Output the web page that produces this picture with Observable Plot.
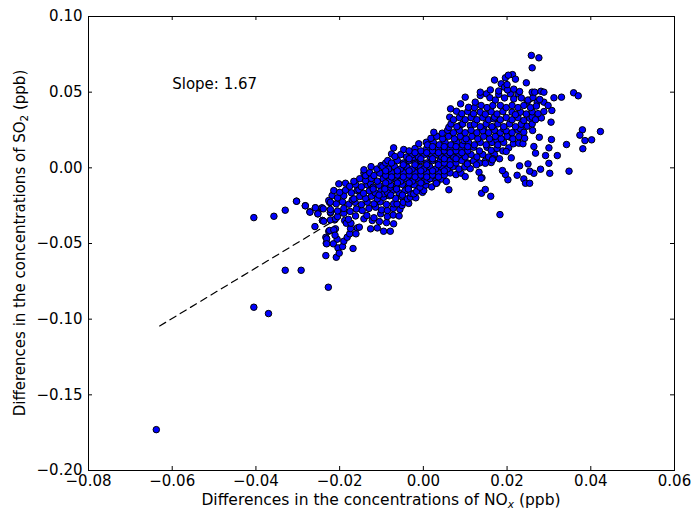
<!DOCTYPE html>
<html><head><meta charset="utf-8">
<script src="https://cdn.jsdelivr.net/npm/d3@7"></script>
<script src="https://cdn.jsdelivr.net/npm/@observablehq/plot@0.6"></script>
<style>body{margin:0;background:#fff;} svg{font-family:"DejaVu Sans",sans-serif;}</style>
</head><body><div id="chart"></div>
<script>
const xTicks = [-0.08,-0.06,-0.04,-0.02,0,0.02,0.04,0.06];
const yTicks = [-0.20,-0.15,-0.10,-0.05,0,0.05,0.10];
const slope = 1.67, intercept = 0.0007;
const fitRangeX = [-0.0630, 0.0270];
const slopeLabel = ["Slope: 1.67"];

const outliers = [
[-0.0405,-0.0329],[-0.0357,-0.0320],[-0.0330,-0.0280],[-0.0303,-0.0220],[-0.0282,-0.0250],
[-0.0271,-0.0290],[-0.0258,-0.0264],[-0.0243,-0.0269],[-0.0252,-0.0304],[-0.0241,-0.0348],
[-0.0259,-0.0388],[-0.0224,-0.0229],[-0.0222,-0.0297],[-0.0330,-0.0677],[-0.0292,-0.0677],
[-0.0227,-0.0789],[-0.0405,-0.0921],[-0.0370,-0.0963],[-0.0638,-0.1730]
];
const lowerArm = [
[-0.0233,-0.0459],[-0.0232,-0.0498],[-0.0233,-0.0580],[-0.0206,-0.0472],[-0.0215,-0.0502],
[-0.0204,-0.0529],[-0.0208,-0.0591],[-0.0201,-0.0564],[-0.0193,-0.0520],[-0.0190,-0.0485],
[-0.0182,-0.0459],[-0.0168,-0.0533],[-0.0231,-0.0469],[-0.0231,-0.0502]
];
const coreBand = [
[-0.0226,-0.0419],[-0.0210,-0.0403],[-0.0176,-0.0436],[-0.0158,-0.0397],[-0.0126,-0.0403],[-0.0110,-0.0397],[-0.0095,-0.0419],[-0.0079,-0.0419],[-0.0174,-0.0401],[-0.0153,-0.0392],[-0.0161,-0.0436],[-0.0224,-0.0414],[-0.0214,-0.0410],[-0.0211,-0.0445],
[-0.0241,-0.0348],[-0.0212,-0.0344],[-0.0222,-0.0344],[-0.0188,-0.0348],[-0.0184,-0.0366],[-0.0173,-0.0366],[-0.0142,-0.0337],[-0.0122,-0.0348],[-0.0105,-0.0355],[-0.0088,-0.0362],[-0.0071,-0.0370],[-0.0210,-0.0337],[-0.0238,-0.0353],
[-0.0252,-0.0304],[-0.0222,-0.0293],[-0.0190,-0.0300],[-0.0179,-0.0340],[-0.0162,-0.0318],[-0.0135,-0.0315],[-0.0102,-0.0304],[-0.0118,-0.0330],[-0.0086,-0.0322],[-0.0072,-0.0312],[-0.0058,-0.0318],[-0.0205,-0.0322],
[-0.0271,-0.0293],[-0.0258,-0.0264],[-0.0242,-0.0264],[-0.0239,-0.0271],[-0.0222,-0.0275],[-0.0205,-0.0285],[-0.0190,-0.0268],[-0.0175,-0.0288],[-0.0160,-0.0272],[-0.0146,-0.0282],[-0.0130,-0.0268],[-0.0114,-0.0260],[-0.0100,-0.0278],[-0.0086,-0.0282],[-0.0072,-0.0268],[-0.0056,-0.0275],[-0.0051,-0.0249],
[-0.0282,-0.0251],[-0.0226,-0.0216],[-0.0222,-0.0227],[-0.0208,-0.0238],[-0.0193,-0.0225],[-0.0178,-0.0240],[-0.0163,-0.0228],[-0.0148,-0.0243],[-0.0134,-0.0227],[-0.0118,-0.0238],[-0.0103,-0.0225],[-0.0088,-0.0242],[-0.0071,-0.0238],[-0.0063,-0.0238],[-0.0048,-0.0228],[-0.0035,-0.0235],
[-0.0303,-0.0221],[-0.0218,-0.0183],[-0.0205,-0.0198],[-0.0190,-0.0185],[-0.0170,-0.0212],[-0.0166,-0.0205],[-0.0152,-0.0190],[-0.0138,-0.0202],[-0.0124,-0.0188],[-0.0110,-0.0205],[-0.0095,-0.0195],[-0.0081,-0.0185],[-0.0066,-0.0202],[-0.0052,-0.0190],[-0.0038,-0.0205],[-0.0031,-0.0194],[-0.0018,-0.0198],
[-0.0214,-0.0150],[-0.0200,-0.0162],[-0.0186,-0.0148],[-0.0172,-0.0165],[-0.0158,-0.0150],[-0.0154,-0.0145],[-0.0143,-0.0168],[-0.0129,-0.0152],[-0.0115,-0.0165],[-0.0101,-0.0150],[-0.0095,-0.0172],[-0.0086,-0.0162],[-0.0072,-0.0148],[-0.0058,-0.0165],[-0.0044,-0.0152],[-0.0030,-0.0168],[-0.0023,-0.0172],[-0.0016,-0.0155],[-0.0002,-0.0162],[0.0001,-0.0150],
[-0.0202,-0.0106],[-0.0186,-0.0102],[-0.0176,-0.0122],[-0.0162,-0.0110],[-0.0148,-0.0125],[-0.0134,-0.0112],[-0.0126,-0.0106],[-0.0120,-0.0128],[-0.0106,-0.0115],[-0.0092,-0.0128],[-0.0079,-0.0128],[-0.0078,-0.0112],[-0.0064,-0.0125],[-0.0050,-0.0110],[-0.0036,-0.0126],[-0.0022,-0.0112],[-0.0008,-0.0128],[0.0006,-0.0114],[0.0020,-0.0126],[0.0033,-0.0095],[0.0031,-0.0102],
[-0.0166,-0.0089],[-0.0152,-0.0072],[-0.0138,-0.0085],[-0.0124,-0.0070],[-0.0110,-0.0088],[-0.0096,-0.0072],[-0.0082,-0.0086],[-0.0068,-0.0072],[-0.0063,-0.0084],[-0.0055,-0.0084],[-0.0054,-0.0088],[-0.0040,-0.0072],[-0.0026,-0.0088],[-0.0012,-0.0072],[0.0002,-0.0088],[0.0009,-0.0084],[0.0016,-0.0072],[0.0030,-0.0086],[0.0044,-0.0074],[0.0055,-0.0090],
[-0.0142,-0.0035],[-0.0138,-0.0051],[-0.0128,-0.0032],[-0.0118,-0.0051],[-0.0104,-0.0035],[-0.0090,-0.0050],[-0.0076,-0.0032],[-0.0062,-0.0048],[-0.0048,-0.0032],[-0.0034,-0.0048],[-0.0020,-0.0032],[-0.0006,-0.0048],[0.0008,-0.0032],[0.0022,-0.0048],[0.0036,-0.0032],[0.0050,-0.0048],[0.0064,-0.0034],[0.0078,-0.0045],[0.0090,-0.0035],
[-0.0142,-0.0013],[-0.0125,0.0008],[-0.0111,-0.0008],[-0.0101,0.0015],[-0.0097,0.0008],[-0.0083,-0.0008],[-0.0069,0.0008],[-0.0055,-0.0008],[-0.0041,0.0008],[-0.0039,0.0004],[-0.0027,-0.0008],[-0.0013,0.0008],[-0.0007,0.0004],[0.0001,-0.0008],[0.0015,0.0008],[0.0029,-0.0008],[0.0043,0.0008],[0.0057,-0.0008],[0.0071,0.0008],[0.0085,-0.0008],[0.0099,0.0006],[0.0112,-0.0005],
[-0.0090,0.0032],[-0.0085,0.0048],[-0.0076,0.0032],[-0.0062,0.0048],[-0.0048,0.0032],[-0.0034,0.0048],[-0.0020,0.0032],[-0.0006,0.0048],[0.0008,0.0032],[0.0022,0.0048],[0.0036,0.0032],[0.0041,0.0048],[0.0050,0.0032],[0.0064,0.0048],[0.0078,0.0032],[0.0092,0.0048],[0.0106,0.0032],[0.0105,0.0026],[0.0120,0.0045],[0.0134,0.0032],[0.0148,0.0045],[0.0162,0.0035],
[-0.0076,0.0092],[-0.0068,0.0075],[-0.0054,0.0088],[-0.0040,0.0072],[-0.0023,0.0070],[-0.0026,0.0088],[-0.0012,0.0072],[0.0002,0.0088],[0.0016,0.0072],[0.0017,0.0092],[0.0030,0.0088],[0.0044,0.0072],[0.0058,0.0088],[0.0072,0.0072],[0.0073,0.0070],[0.0086,0.0088],[0.0100,0.0072],[0.0114,0.0088],[0.0128,0.0072],[0.0142,0.0088],[0.0156,0.0072],[0.0170,0.0088],[0.0182,0.0060],[0.0166,0.0060],
[-0.0071,0.0132],[-0.0047,0.0121],[-0.0034,0.0112],[-0.0020,0.0128],[-0.0006,0.0112],[0.0008,0.0128],[0.0022,0.0112],[0.0036,0.0128],[0.0050,0.0112],[0.0057,0.0136],[0.0064,0.0128],[0.0078,0.0112],[0.0092,0.0128],[0.0106,0.0112],[0.0120,0.0136],[0.0134,0.0112],[0.0152,0.0136],[0.0162,0.0115],[0.0176,0.0128],[0.0190,0.0112],[0.0204,0.0132],[0.0198,0.0108],
[-0.0011,0.0159],[0.0007,0.0169],[0.0010,0.0152],[0.0024,0.0168],[0.0038,0.0152],[0.0052,0.0168],[0.0066,0.0152],[0.0080,0.0168],[0.0094,0.0152],[0.0097,0.0180],[0.0108,0.0168],[0.0122,0.0152],[0.0136,0.0168],[0.0150,0.0152],[0.0164,0.0168],[0.0176,0.0180],[0.0178,0.0152],[0.0192,0.0168],[0.0208,0.0202],[0.0215,0.0159],[0.0228,0.0163],[0.0238,0.0159],
[0.0018,0.0195],[0.0032,0.0208],[0.0046,0.0192],[0.0060,0.0208],[0.0074,0.0192],[0.0088,0.0208],[0.0102,0.0192],[0.0116,0.0208],[0.0130,0.0192],[0.0144,0.0208],[0.0158,0.0192],[0.0172,0.0208],[0.0186,0.0192],[0.0200,0.0208],[0.0214,0.0192],[0.0228,0.0205],[0.0242,0.0195],
[0.0025,0.0235],[0.0045,0.0229],[0.0058,0.0248],[0.0072,0.0232],[0.0088,0.0280],[0.0086,0.0248],[0.0100,0.0232],[0.0112,0.0280],[0.0114,0.0248],[0.0128,0.0232],[0.0144,0.0258],[0.0142,0.0245],[0.0156,0.0232],[0.0170,0.0248],[0.0184,0.0232],[0.0192,0.0258],[0.0198,0.0245],[0.0212,0.0232],[0.0226,0.0248],[0.0232,0.0258],[0.0240,0.0235],[0.0261,0.0247],
[0.0061,0.0268],[0.0066,0.0290],[0.0080,0.0272],[0.0094,0.0290],[0.0122,0.0288],[0.0136,0.0272],[0.0150,0.0290],[0.0164,0.0272],[0.0178,0.0290],[0.0192,0.0272],[0.0206,0.0290],[0.0220,0.0272],[0.0234,0.0288],[0.0248,0.0275],[0.0260,0.0290],
[0.0063,0.0335],[0.0072,0.0318],[0.0086,0.0332],[0.0100,0.0318],[0.0114,0.0332],[0.0128,0.0318],[0.0142,0.0332],[0.0156,0.0318],[0.0168,0.0324],[0.0170,0.0335],[0.0184,0.0318],[0.0198,0.0332],[0.0212,0.0318],[0.0226,0.0332],[0.0240,0.0313],[0.0254,0.0328],[0.0260,0.0335],[0.0268,0.0318],[0.0282,0.0330],[0.0305,0.0302],
[0.0065,0.0390],[0.0079,0.0374],[0.0092,0.0358],[0.0106,0.0372],[0.0120,0.0358],[0.0136,0.0368],[0.0148,0.0355],[0.0162,0.0370],[0.0176,0.0356],[0.0190,0.0372],[0.0212,0.0368],[0.0232,0.0368],[0.0220,0.0352],[0.0246,0.0356],[0.0260,0.0370],[0.0274,0.0358],[0.0288,0.0372],[0.0307,0.0379],
[0.0089,0.0423],[0.0108,0.0400],[0.0122,0.0398],[0.0124,0.0434],[0.0138,0.0412],[0.0152,0.0398],[0.0166,0.0412],[0.0184,0.0412],[0.0198,0.0398],[0.0212,0.0412],[0.0226,0.0398],[0.0248,0.0434],[0.0240,0.0412],[0.0256,0.0398],[0.0272,0.0434],[0.0270,0.0408],[0.0288,0.0434],[0.0298,0.0412],
[0.0100,0.0467],[0.0136,0.0478],[0.0151,0.0489],[0.0159,0.0463],[0.0172,0.0448],[0.0180,0.0485],[0.0194,0.0462],[0.0208,0.0489],[0.0216,0.0455],[0.0226,0.0489],[0.0234,0.0462],[0.0250,0.0448],[0.0262,0.0465],[0.0278,0.0452],
[0.0136,0.0500],[0.0160,0.0515],[0.0186,0.0555],[0.0194,0.0533],[0.0180,0.0508],[0.0201,0.0515],[0.0230,0.0504],[0.0260,0.0500],[0.0266,0.0500],[0.0281,0.0506],[0.0288,0.0500],[0.0246,0.0562],[0.0213,0.0616],[0.0196,0.0595],[0.0203,0.0612],[0.0220,0.0586],[0.0170,0.0580],[0.0200,0.0550],[0.0216,0.0520]
];
const coreFill = [
[-0.0090,-0.0100],[-0.0062,-0.0100],[-0.0034,-0.0100],[-0.0006,-0.0100],[-0.0076,-0.0060],[-0.0048,-0.0060],[-0.0020,-0.0060],[0.0008,-0.0060],[0.0036,-0.0060],
[-0.0090,-0.0020],[-0.0062,-0.0020],[-0.0034,-0.0020],[-0.0006,-0.0020],[0.0022,-0.0020],[0.0050,-0.0020],[-0.0048,0.0020],[-0.0020,0.0020],[0.0008,0.0020],[0.0036,0.0020],[0.0064,0.0020],
[-0.0034,0.0060],[-0.0006,0.0060],[0.0022,0.0060],[0.0050,0.0060],[0.0078,0.0060],[-0.0020,0.0100],[0.0008,0.0100],[0.0036,0.0100],[0.0064,0.0100],[0.0092,0.0100],
[0.0022,0.0140],[0.0050,0.0140],[0.0078,0.0140],[0.0106,0.0140],[-0.0120,-0.0140],[-0.0092,-0.0140],[-0.0064,-0.0140],[-0.0036,-0.0140],[-0.0106,-0.0180],[-0.0078,-0.0180],[-0.0050,-0.0180]
];
const upperTop = [[0.0258,0.0743],[0.0276,0.0727],[0.0260,0.0661]];
const rightScatter = [
[0.0359,0.0496],[0.0370,0.0476],[0.0330,0.0467],[0.0312,0.0463],[0.0423,0.0240],[0.0380,0.0251],[0.0374,0.0216],[0.0386,0.0180],[0.0402,0.0185],[0.0381,0.0126],
[0.0348,-0.0022],[0.0342,0.0154],[0.0320,0.0081],[0.0306,0.0187],[0.0300,0.0132],[0.0292,0.0081],[0.0300,0.0030],[0.0280,-0.0009],[0.0302,-0.0036],[0.0268,0.0097],
[0.0277,0.0202],[0.0264,0.0141],[0.0264,-0.0036],[0.0254,-0.0022],[0.0250,0.0026],[0.0230,0.0013],[0.0224,-0.0049],[0.0240,-0.0073],[0.0244,-0.0102],[0.0254,-0.0102],
[0.0202,-0.0079],[0.0196,-0.0044],[0.0189,-0.0018],[0.0210,0.0066],[0.0148,0.0030],[0.0133,-0.0029],[0.0140,-0.0066],[0.0100,-0.0058],[0.0061,-0.0145],[0.0139,-0.0168],
[0.0148,-0.0143],[0.0161,-0.0188],[0.0183,-0.0309],[0.0138,-0.0069],[0.0127,0.0020],[0.0165,0.0053],[0.0031,-0.0102]
];

const points = [...outliers, ...lowerArm, ...coreBand, ...coreFill, ...upperTop, ...rightScatter].map(([x, y]) => ({x, y}));
const fitLine = fitRangeX.map(x => ({x, y: slope * x + intercept}));

const W = 695, H = 510, mL = 88, mR = 21, mT = 16, mB = 40;
const plotW = W - mL - mR, plotH = H - mT - mB, tickLen = 4;
const fmt = d3.format(".2f");

const chart = Plot.plot({
  width: W, height: H, marginLeft: mL, marginRight: mR, marginTop: mT, marginBottom: mB,
  style: {fontFamily: '"DejaVu Sans", sans-serif', fontSize: "15px", background: "white", color: "black"},
  x: {domain: [-0.08, 0.06], ticks: xTicks, tickFormat: fmt, tickSize: 0, tickPadding: 5, label: null},
  y: {domain: [-0.20, 0.10], ticks: yTicks, tickFormat: fmt, tickSize: 0, tickPadding: 6, label: null},
  marks: [
    Plot.line(fitLine, {x: "x", y: "y", stroke: "black", strokeWidth: 1.2, strokeDasharray: "7,5"}),
    Plot.dot(points, {x: "x", y: "y", r: 3.25, fill: "#0000ff", stroke: "black", strokeWidth: 1}),
    Plot.frame({stroke: "black", strokeWidth: 1}),
    Plot.tickX(xTicks, {x: d => d, insetTop: plotH - tickLen, stroke: "black"}),
    Plot.tickX(xTicks, {x: d => d, insetBottom: plotH - tickLen, stroke: "black"}),
    Plot.tickY(yTicks, {y: d => d, insetRight: plotW - tickLen, stroke: "black"}),
    Plot.tickY(yTicks, {y: d => d, insetLeft: plotW - tickLen, stroke: "black"}),
    Plot.text(slopeLabel, {x: -0.060, y: 0.0555, text: d => d, textAnchor: "start", fontSize: 15, fill: "black"})
  ]
});

const svg = d3.select(chart);
const xl = svg.append("text").attr("x", mL + plotW / 2).attr("y", 505)
  .attr("text-anchor", "middle").attr("font-size", 15.5).attr("fill", "black");
xl.append("tspan").text("Differences in the concentrations of NO");
xl.append("tspan").attr("dy", 2.5).attr("font-size", 10.5).attr("font-style", "italic").text("x");
xl.append("tspan").attr("dy", -2.5).text(" (ppb)");
const yl = svg.append("text").attr("transform", `translate(25,${mT + plotH / 2}) rotate(-90)`)
  .attr("text-anchor", "middle").attr("font-size", 15).attr("fill", "black");
yl.append("tspan").text("Differences in the concentrations of SO");
yl.append("tspan").attr("dy", 3).attr("font-size", 10.5).text("2");
yl.append("tspan").attr("dy", -3).text(" (ppb)");
document.getElementById("chart").appendChild(chart);
</script>
</body></html>
